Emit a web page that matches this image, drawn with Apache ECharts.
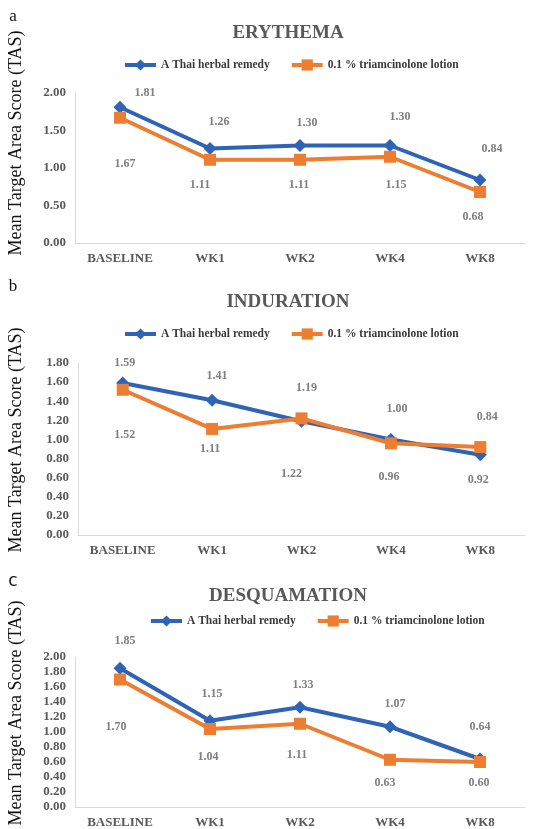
<!DOCTYPE html>
<html>
<head>
<meta charset="utf-8">
<script src="https://cdn.jsdelivr.net/npm/echarts@6/dist/echarts.min.js"></script>
<style>
html,body{margin:0;padding:0;background:#fff;}
#chart{width:547px;height:829px;}
</style>
</head>
<body>
<div id="chart"></div>
<script>
const categories = ['BASELINE', 'WK1', 'WK2', 'WK4', 'WK8'];
const seriesNames = ['A Thai herbal remedy', '0.1 % triamcinolone lotion'];
const panelTitles = ['ERYTHEMA', 'INDURATION', 'DESQUAMATION'];
const panelLetters = ['a', 'b', 'c'];
const yTitle = 'Mean Target Area Score (TAS)';

const erythemaHerbal = [1.81, 1.26, 1.30, 1.30, 0.84];
const erythemaTriam = [1.67, 1.11, 1.11, 1.15, 0.68];
const indurationHerbal = [1.59, 1.41, 1.19, 1.00, 0.84];
const indurationTriam = [1.52, 1.11, 1.22, 0.96, 0.92];
const desquamationHerbal = [1.85, 1.15, 1.33, 1.07, 0.64];
const desquamationTriam = [1.70, 1.04, 1.11, 0.63, 0.60];

const yMaxes = [2, 1.8, 2];
const yIntervals = [0.5, 0.2, 0.2];

// layout (styling only)
const SERIF = '"Liberation Serif", "Times New Roman", serif';
const BLUE = '#2f63b5';
const ORANGE = '#ed7d31';
const panels = [
  { grid: {left: 75, top: 93, right: 22, height: 150}, titleY: 24, legendLeft: 123, legendTop: 59, letterY: 17, letterFont: SERIF, yTitleY: 143,
    blueShift: [[25,-14],[9,-27],[7,-23],[10,-29],[12,-31]],
    orangeShift: [[5,46],[-10,25],[-1,25],[6,28],[-7,25]] },
  { grid: {left: 78, top: 363, right: 22, height: 172}, titleY: 293, legendLeft: 123, legendTop: 328, letterY: 287, letterFont: SERIF, yTitleY: 440,
    blueShift: [[2,-20],[5,-24],[5,-33],[6,-31],[7,-38]],
    orangeShift: [[2,45],[-2,20],[-10,55],[-2,34],[-2,33]] },
  { grid: {left: 75, top: 657, right: 22, height: 152}, titleY: 587, legendLeft: 149, legendTop: 615, letterY: 582, letterFont: '"DejaVu Sans", sans-serif', yTitleY: 713,
    blueShift: [[5,-27],[2,-27],[3,-22],[5,-23],[0,-32]],
    orangeShift: [[-4,47],[-2,28],[-3,31],[-5,23],[-1,21]] }
];
const panelData = [
  [erythemaHerbal, erythemaTriam],
  [indurationHerbal, indurationTriam],
  [desquamationHerbal, desquamationTriam]
];

const chart = echarts.init(document.getElementById('chart'), null, {renderer: 'canvas'});

const option = {
  backgroundColor: '#fff',
  animation: false,
  title: [], legend: [], grid: [], xAxis: [], yAxis: [], series: [], graphic: []
};

panels.forEach((p, i) => {
  option.title.push({
    text: panelTitles[i], left: 288, top: p.titleY, textAlign: 'center', padding: 0,
    textStyle: {fontFamily: SERIF, fontWeight: 'bold', fontSize: 19, color: '#595959'}
  });
  option.legend.push({
    data: seriesNames, left: p.legendLeft, top: p.legendTop, padding: 0,
    itemWidth: 31, itemHeight: 14, itemGap: 20,
    lineStyle: {width: 4},
    textStyle: {fontFamily: SERIF, fontWeight: 'bold', fontSize: 11.5, color: '#3a3a3a'}
  });
  option.grid.push(Object.assign({containLabel: false}, p.grid));
  option.xAxis.push({
    type: 'category', gridIndex: i, data: categories, boundaryGap: true,
    axisLine: {show: true, lineStyle: {color: '#d9d9d9', width: 1}},
    axisTick: {show: false},
    axisLabel: {margin: 9, fontFamily: SERIF, fontWeight: 'bold', fontSize: 13, color: '#595959'}
  });
  option.yAxis.push({
    type: 'value', gridIndex: i, min: 0, max: yMaxes[i], interval: yIntervals[i],
    axisLine: {show: true, lineStyle: {color: '#d9d9d9', width: 1}},
    axisTick: {show: false},
    splitLine: {show: false},
    axisLabel: {margin: 9, fontFamily: SERIF, fontWeight: 'bold', fontSize: 13, color: '#595959',
      formatter: v => v.toFixed(2)}
  });
  const [herbal, triam] = panelData[i];
  const mk = (vals, shifts) => vals.map((v, j) => ({value: v, label: {offset: shifts[j]}}));
  const labelBase = {show: true, position: 'inside', fontFamily: SERIF, fontWeight: 'bold', fontSize: 12, color: '#7f7f7f',
    formatter: d => Number(d.value).toFixed(2)};
  option.series.push({
    name: seriesNames[0], type: 'line', xAxisIndex: i, yAxisIndex: i,
    data: mk(herbal, p.blueShift),
    symbol: 'diamond', symbolSize: 13,
    lineStyle: {color: BLUE, width: 4}, itemStyle: {color: BLUE},
    label: labelBase, z: 3
  });
  option.series.push({
    name: seriesNames[1], type: 'line', xAxisIndex: i, yAxisIndex: i,
    data: mk(triam, p.orangeShift),
    symbol: 'rect', symbolSize: 12,
    lineStyle: {color: ORANGE, width: 4}, itemStyle: {color: ORANGE},
    label: labelBase, z: 4
  });
  option.graphic.push({
    type: 'text', x: 13, y: p.letterY,
    style: {text: panelLetters[i], font: '17px ' + p.letterFont, fill: '#111', align: 'center', verticalAlign: 'middle'}
  });
  option.graphic.push({
    type: 'text', x: 16, y: p.yTitleY, rotation: Math.PI / 2,
    style: {text: yTitle, font: '18px ' + SERIF, fill: '#111', align: 'center', verticalAlign: 'middle'}
  });
});

chart.setOption(option);
</script>
</body>
</html>
